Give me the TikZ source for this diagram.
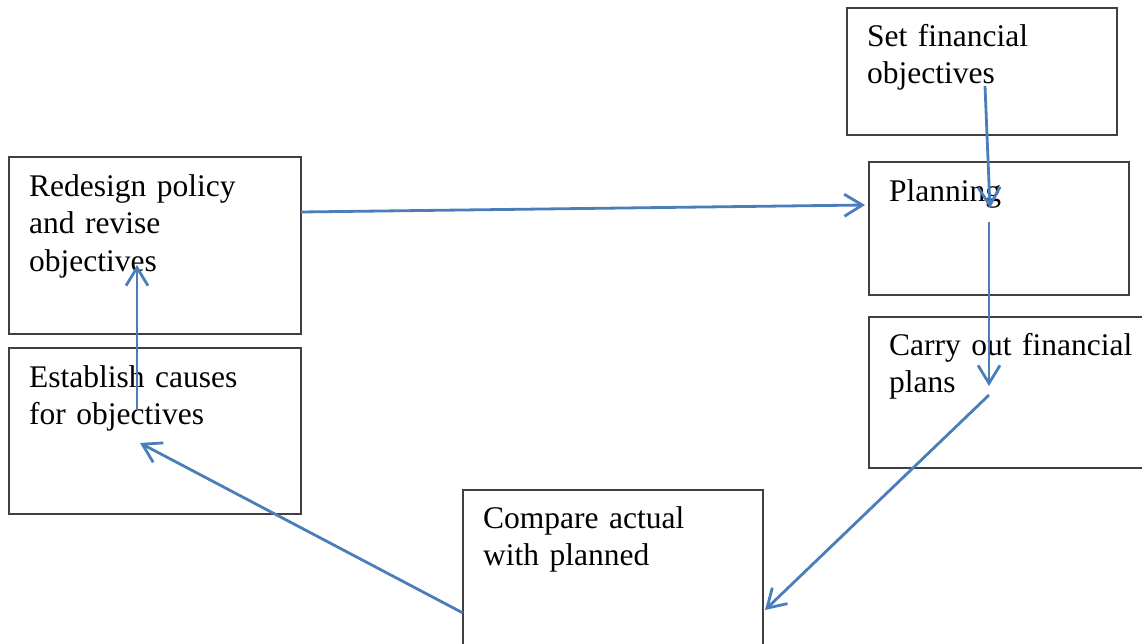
\documentclass[tikz,border=0pt]{standalone}
\usepackage{fontspec}
\setmainfont{Liberation Serif}
\usetikzlibrary{arrows.meta}
\definecolor{boxline}{HTML}{404040}
\definecolor{arrblue}{HTML}{4A7EBB}
\tikzset{
  box/.style={draw=boxline, line width=1.5pt, anchor=north west, inner sep=0pt, outer sep=0pt},
  lbl/.style={anchor=base west, inner sep=0pt, text width=330pt, align=left,
              font=\fontsize{31.5}{37}\selectfont},
  arr/.style={draw=arrblue, line width=2.8pt,
              -{Straight Barb[length=18pt,width=22pt,line width=2.8pt]}}
}
\begin{document}
\begin{tikzpicture}[x=1pt,y=-1pt]
\useasboundingbox (0,0) rectangle (1142,644);
% boxes
\node[box, minimum width=270pt, minimum height=127pt] (set) at (847,8) {};
\node[box, minimum width=260pt, minimum height=133pt] (plan) at (869,162) {};
\node[box, minimum width=290pt, minimum height=151pt] (carry) at (869,317) {};
\node[box, minimum width=300pt, minimum height=170pt] (comp) at (463,490) {};
\node[box, minimum width=292pt, minimum height=177pt] (redes) at (9,157) {};
\node[box, minimum width=292pt, minimum height=166pt] (estab) at (9,348) {};
% texts
\node[lbl] (tset) at ([shift={(20pt,-39pt)}]set.north west) {Set financial\\objectives};
\node[lbl] (tplan) at ([shift={(20pt,-40pt)}]plan.north west) {Planning};
\node[lbl] (tcarry) at ([shift={(20pt,-38pt)}]carry.north west) {Carry out financial\\plans};
\node[lbl] (tcomp) at ([shift={(20pt,-38pt)}]comp.north west) {Compare actual\\with planned};
\node[lbl] (tredes) at ([shift={(20pt,-40pt)}]redes.north west) {Redesign policy\\and revise\\objectives};
\node[lbl] (testab) at ([shift={(20pt,-39pt)}]estab.north west) {Establish causes\\for objectives};
% connector end points
\coordinate (s1) at (985,86);   \coordinate (e1) at (990,208);
\coordinate (s2) at (301,212);  \coordinate (e2) at (865,205);
\coordinate (s3) at (989,222);  \coordinate (e3) at (989,386);
\coordinate (s4) at (989,395);  \coordinate (e4) at (765,610);
\coordinate (s5) at (463,613);  \coordinate (e5) at (140,443);
\coordinate (s6) at (137,410);  \coordinate (e6) at (137,265);
% connectors
\draw[arr] (s1) -- (e1);
\draw[arr] (s2) -- (e2);
\draw[arr] (s3) -- (e3);
\draw[arr] (s4) -- (e4);
\draw[arr] (s5) -- (e5);
\draw[arr] (s6) -- (e6);
\end{tikzpicture}
\end{document}
